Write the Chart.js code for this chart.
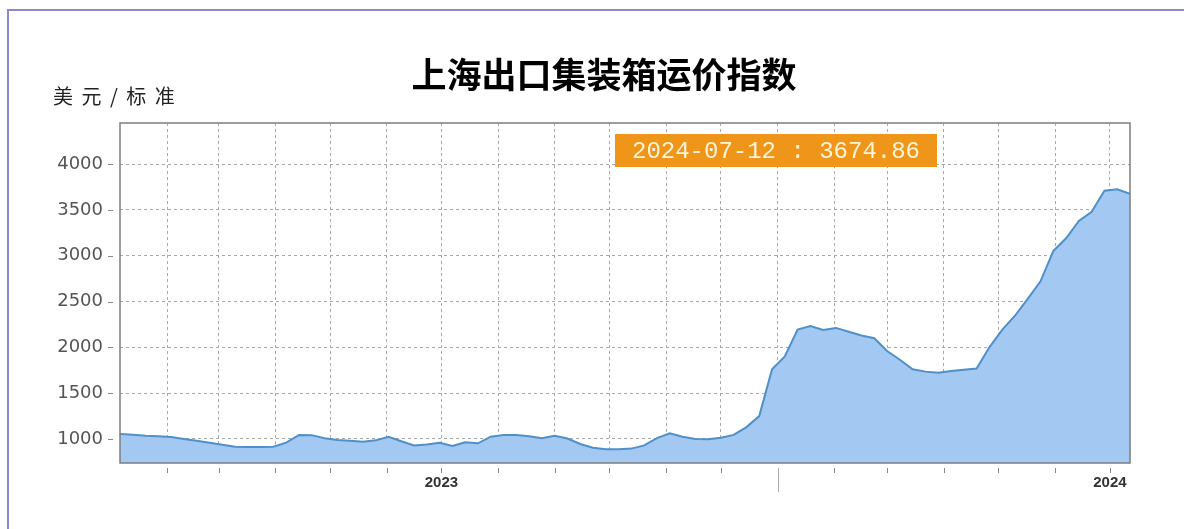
<!DOCTYPE html>
<html><head><meta charset="utf-8">
<script src="https://cdn.jsdelivr.net/npm/chart.js@4.4.1/dist/chart.umd.min.js"></script>
<style>
html,body{margin:0;padding:0;background:#fff;overflow:hidden;}
#wrap{position:relative;width:1184px;height:529px;}
#frame{position:absolute;left:7px;top:9px;width:1300px;height:700px;border-left:2px solid #8a8ac6;border-top:2px solid #8a8ac6;pointer-events:none;}
canvas{position:absolute;left:0;top:0;}
</style></head><body>
<div id="wrap"><canvas id="c" width="1184" height="529"></canvas><div id="frame"></div></div>
<script>
const chartTitle = '上海出口集装箱运价指数';
const unitLabel = '美 元 / 标 准';
const startDate = '2023-01-06';
const weeklyValues = [
  1055, 1045, 1035, 1030, 1022, 1000, 981, 960, 938, 916,
  912, 912, 916, 960, 1044, 1042, 1008, 990, 980, 971,
  985, 1025, 975, 930, 940, 958, 925, 965, 953, 1025,
  1044, 1044, 1030, 1007, 1036, 1005, 945, 905, 887, 887,
  895, 930, 1010, 1062, 1025, 1000, 996, 1014, 1045, 1130,
  1250, 1760, 1900, 2195, 2233, 2190, 2212, 2170, 2130, 2099,
  1960, 1865, 1760, 1735, 1722, 1742, 1755, 1768, 2000, 2190,
  2345, 2530, 2720, 3050, 3190, 3380, 3480, 3710, 3724, 3674.86
];
const monthTicks = [
  '2023-02-01','2023-03-01','2023-04-01','2023-05-01','2023-06-01','2023-07-01',
  '2023-08-01','2023-09-01','2023-10-01','2023-11-01','2023-12-01','2024-01-01',
  '2024-02-01','2024-03-01','2024-04-01','2024-05-01','2024-06-01','2024-07-01'
];
const xTickLabels = ['','','','','','2023','','','','','','','','','','','','2024'];
const yearBoundary = '2024-01-01';
const yTicks = [1000, 1500, 2000, 2500, 3000, 3500, 4000];
const yMin = 738, yMax = 4448;

const DAY = 86400000;
const t0 = Date.parse(startDate + 'T00:00:00Z');
const toDay = d => (Date.parse(d + 'T00:00:00Z') - t0) / DAY;
const monthTickDays = monthTicks.map(toDay);
const points = weeklyValues.map((v, i) => ({x: i * 7, y: v}));
const lastIdx = weeklyValues.length - 1;
const lastDate = new Date(t0 + lastIdx * 7 * DAY).toISOString().slice(0, 10);
const annotation = lastDate + ' : ' + weeklyValues[lastIdx].toFixed(2);

const decor = {
  id: 'decor',
  afterDraw(chart) {
    const ctx = chart.ctx, ca = chart.chartArea;
    const xs = chart.scales.x, ys = chart.scales.y;
    ctx.save();
    // title
    ctx.fillStyle = '#000';
    ctx.font = 'bold 35px "Noto Sans CJK SC"';
    ctx.textAlign = 'center';
    ctx.textBaseline = 'middle';
    ctx.fillText(chartTitle, 604, 75);
    // unit
    ctx.font = '20px "Noto Sans CJK SC"';
    ctx.fillStyle = '#222';
    ctx.textAlign = 'left';
    ctx.letterSpacing = '2px';
    ctx.fillText(unitLabel, 53, 96);
    ctx.letterSpacing = '0px';
    // frame
    ctx.strokeStyle = '#7d7d7d';
    ctx.lineWidth = 1.5;
    ctx.strokeRect(ca.left, ca.top, ca.right - ca.left, ca.bottom - ca.top);
    // y tick dashes
    ctx.strokeStyle = '#888';
    ctx.lineWidth = 1;
    yTicks.forEach(v => {
      const y = Math.round(ys.getPixelForValue(v)) + 0.5;
      ctx.beginPath(); ctx.moveTo(ca.left - 12, y); ctx.lineTo(ca.left - 7, y); ctx.stroke();
    });
    // x tick marks
    monthTickDays.forEach((d, i) => {
      const x = Math.round(xs.getPixelForValue(d)) + 0.5;
      const long = monthTicks[i] === yearBoundary;
      ctx.strokeStyle = long ? '#aaa' : '#888';
      ctx.beginPath(); ctx.moveTo(x, ca.bottom + 5); ctx.lineTo(x, ca.bottom + (long ? 29 : 10)); ctx.stroke();
    });
    // annotation box
    ctx.fillStyle = '#ef951a';
    ctx.fillRect(615, 134, 322, 33);
    ctx.fillStyle = '#fff4d6';
    ctx.font = '24px "Liberation Mono"';
    ctx.textAlign = 'center';
    ctx.textBaseline = 'middle';
    ctx.fillText(annotation, 776, 152);
    ctx.restore();
  }
};

new Chart(document.getElementById('c'), {
  type: 'line',
  data: {
    datasets: [{
      data: points,
      fill: 'start',
      backgroundColor: '#a3c9f2',
      borderColor: '#4f90c8',
      borderWidth: 2,
      pointRadius: 0,
      tension: 0
    }]
  },
  options: {
    responsive: false,
    devicePixelRatio: 1,
    animation: false,
    layout: {padding: {top: 123, right: 54, left: 0, bottom: 0}},
    plugins: {legend: {display: false}, tooltip: {enabled: false}, title: {display: false}},
    scales: {
      x: {
        type: 'linear',
        min: 0,
        max: lastIdx * 7,
        afterFit: s => { s.height = 66; },
        afterBuildTicks: s => { s.ticks = monthTickDays.map(v => ({value: v})); },
        ticks: {
          autoSkip: false,
          maxRotation: 0,
          padding: 11,
          color: '#333',
          font: {family: '"Liberation Sans"', size: 15, weight: 'bold'},
          callback: (v, i) => xTickLabels[i]
        },
        grid: {color: '#a8a8a8', lineWidth: 1, drawTicks: false},
        border: {display: false, dash: [3, 3]}
      },
      y: {
        min: yMin,
        max: yMax,
        afterFit: s => { s.width = 120; },
        afterBuildTicks: s => { s.ticks = yTicks.map(v => ({value: v})); },
        ticks: {
          padding: 17,
          color: '#555',
          font: {family: '"DejaVu Sans"', size: 18},
          callback: v => String(v)
        },
        grid: {color: '#a8a8a8', lineWidth: 1, drawTicks: false},
        border: {display: false, dash: [3, 3]}
      }
    }
  },
  plugins: [decor]
});
</script>
</body></html>
